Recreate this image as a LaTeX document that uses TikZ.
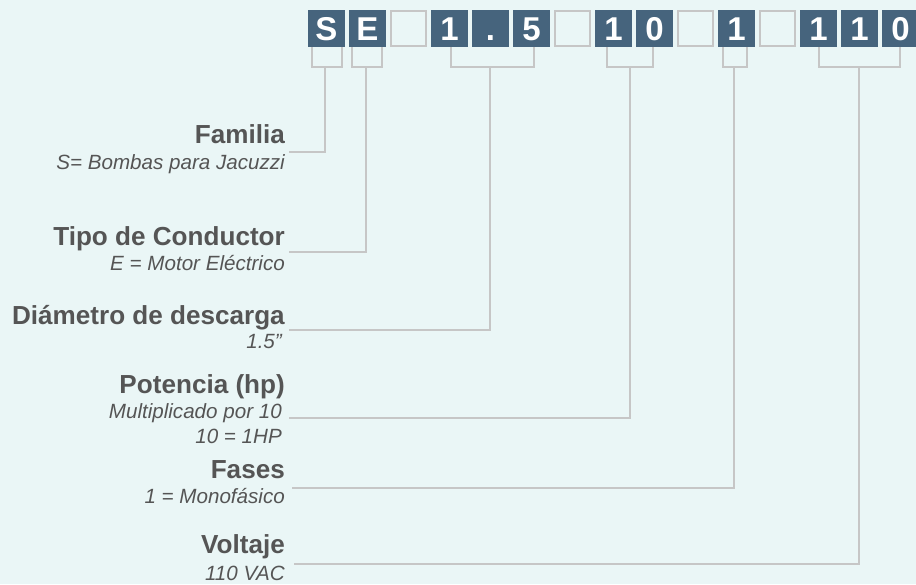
\documentclass[tikz,border=0pt]{standalone}
\usepackage{fontspec}
\setmainfont{Liberation Sans}
\definecolor{boxblue}{HTML}{46647D}
\definecolor{backcyan}{HTML}{EAF6F6}
\definecolor{linegray}{HTML}{C6C6C6}
\definecolor{textgray}{HTML}{555555}

\begin{document}
\begin{tikzpicture}
  [x=1pt, y=-1pt]
  \tikzstyle{box} = [minimum width=37pt, minimum height=37pt, inner sep=0pt, text height=23.5pt, text depth=0pt, font=\bfseries\fontsize{33}{33}\selectfont];
  \tikzstyle{blue_box}  = [box, fill=boxblue, text=white];
  \tikzstyle{empty_box} = [box, minimum width=35pt, minimum height=35pt, draw=linegray, line width=2pt];
  \tikzstyle{title} = [anchor=base east, inner sep=0pt, text=textgray, font=\bfseries\fontsize{26.1}{26.1}\selectfont];
  \tikzstyle{note}  = [anchor=base east, inner sep=0pt, text=textgray, font=\itshape\fontsize{20.6}{20.6}\selectfont];
  \tikzstyle{link}  = [draw=linegray, line width=2pt];

  \fill[backcyan] (0, 0) rectangle (916, 584);
  \useasboundingbox (0, 0) rectangle (916, 584);

  \node[blue_box]  (bS)    at (326.5, 28.5) {S};
  \node[blue_box]  (bE)    at (367.5, 28.5) {E};
  \node[empty_box] (gapA)  at (408.5, 28.5) {};
  \node[blue_box]  (bOne)  at (449.5, 28.5) {1};
  \node[blue_box]  (bDot)  at (490.5, 28.5) {.};
  \node[blue_box]  (bFive) at (531.5, 28.5) {5};
  \node[empty_box] (gapB)  at (572.5, 28.5) {};
  \node[blue_box]  (bTen)  at (613.5, 28.5) {1};
  \node[blue_box]  (bZero) at (654.5, 28.5) {0};
  \node[empty_box] (gapC)  at (695.5, 28.5) {};
  \node[blue_box]  (bFase) at (736.5, 28.5) {1};
  \node[empty_box] (gapD)  at (777.5, 28.5) {};
  \node[blue_box]  (bVa)   at (818.5, 28.5) {1};
  \node[blue_box]  (bVb)   at (859.5, 28.5) {1};
  \node[blue_box]  (bVc)   at (900.5, 28.5) {0};

  \coordinate (kSa) at (312, 47);  \coordinate (kSb) at (342, 47);  \coordinate (jS) at (325, 67);
  \coordinate (kEa) at (352, 47);  \coordinate (kEb) at (382, 47);  \coordinate (jE) at (366, 67);
  \coordinate (kDa) at (451, 47);  \coordinate (kDb) at (534, 47);  \coordinate (jD) at (490, 67);
  \coordinate (kPa) at (607, 47);  \coordinate (kPb) at (653, 47);  \coordinate (jP) at (630, 67);
  \coordinate (kFa) at (723, 47);  \coordinate (kFb) at (747, 47);  \coordinate (jF) at (734, 67);
  \coordinate (kVa) at (819, 47);  \coordinate (kVb) at (900, 47);  \coordinate (jV) at (859, 67);

  \draw[link] (kSa) |- (jS) -| (kSb);
  \draw[link] (kEa) |- (jE) -| (kEb);
  \draw[link] (kDa) |- (jD) -| (kDb);
  \draw[link] (kPa) |- (jP) -| (kPb);
  \draw[link] (kFa) |- (jF) -| (kFb);
  \draw[link] (kVa) |- (jV) -| (kVb);

  \node[title] (familia) at (285, 143) {Familia};
  \node[note]  (familiaN) at (285, 169) {S= Bombas para Jacuzzi};

  \node[title] (tipo) at (285, 245) {Tipo de Conductor};
  \node[note]  (tipoN) at (285, 270) {E = Motor Eléctrico};

  \node[title] (diametro) at (285, 324) {Diámetro de descarga};
  \node[note]  (diametroN) at (282, 348) {1.5”};

  \node[title] (potencia) at (285, 393) {Potencia (hp)};
  \node[note]  (potenciaN) at (282, 418) {Multiplicado por 10};
  \node[note]  (potenciaM) at (282, 443) {10 = 1HP};

  \node[title] (fases) at (285, 478) {Fases};
  \node[note]  (fasesN) at (285, 503) {1 = Monofásico};

  \node[title] (voltaje) at (285, 553) {Voltaje};
  \node[note]  (voltajeN) at (285, 580) {110 VAC};

  \coordinate (lFam) at (289, 152);
  \coordinate (lTipo) at (289, 252);
  \coordinate (lDiam) at (289, 330);
  \coordinate (lPot) at (289, 418);
  \coordinate (lFas) at (292, 488);
  \coordinate (lVol) at (294, 564);

  \draw[link] (lFam) -| (jS);
  \draw[link] (lTipo) -| (jE);
  \draw[link] (lDiam) -| (jD);
  \draw[link] (lPot) -| (jP);
  \draw[link] (lFas) -| (jF);
  \draw[link] (lVol) -| (jV);

\end{tikzpicture}
\end{document}
